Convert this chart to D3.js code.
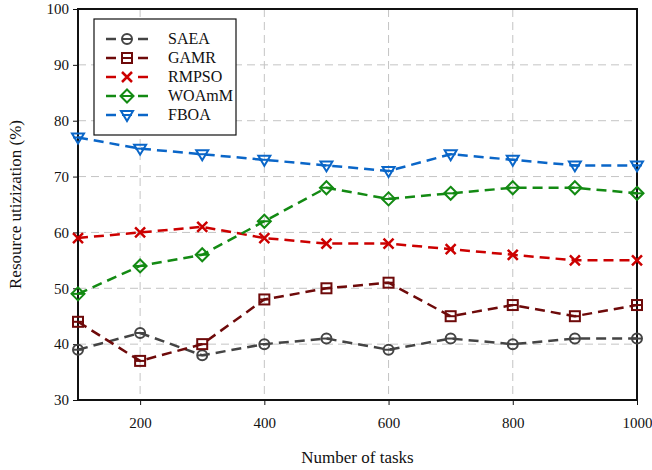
<!DOCTYPE html>
<html>
<head>
<meta charset="utf-8">
<script src="https://cdn.jsdelivr.net/npm/d3@7"></script>
<style>
  body { margin: 0; background: #fff; }
  text { font-family: "Liberation Serif", "Times New Roman", serif; }
</style>
</head>
<body>
<svg id="chart" width="652" height="470"></svg>
<script>
// data
const tasks = [100, 200, 300, 400, 500, 600, 700, 800, 900, 1000];
const saea = [39, 42, 38, 40, 41, 39, 41, 40, 41, 41];
const gamr = [44, 37, 40, 48, 50, 51, 45, 47, 45, 47];
const rmpso = [59, 60, 61, 59, 58, 58, 57, 56, 55, 55];
const woamm = [49, 54, 56, 62, 68, 66, 67, 68, 68, 67];
const fboa = [77, 75, 74, 73, 72, 71, 74, 73, 72, 72];
const xTicks = [200, 400, 600, 800, 1000];
const yTicks = [30, 40, 50, 60, 70, 80, 90, 100];

const series = [
  { name: 'SAEA', values: saea, color: '#444444', marker: 'circle' },
  { name: 'GAMR', values: gamr, color: '#6e0a0a', marker: 'square' },
  { name: 'RMPSO', values: rmpso, color: '#cc0000', marker: 'cross' },
  { name: 'WOAmM', values: woamm, color: '#138a13', marker: 'diamond' },
  { name: 'FBOA', values: fboa, color: '#0a66c8', marker: 'triangle' },
];

const svg = d3.select('#chart');
const margin = { left: 78, right: 15, top: 9, bottom: 70 };
const width = 652 - margin.left - margin.right;
const height = 470 - margin.top - margin.bottom;

const x = d3.scaleLinear().domain([100, 1000]).range([0, width]);
const y = d3.scaleLinear().domain([30, 100]).range([height, 0]);

const g = svg.append('g').attr('transform', `translate(${margin.left},${margin.top})`);

// grid
g.append('g')
  .selectAll('line')
  .data(yTicks.slice(1, -1))
  .join('line')
  .attr('x1', 0).attr('x2', width)
  .attr('y1', (d) => y(d)).attr('y2', (d) => y(d))
  .attr('stroke', '#c4c4c4').attr('stroke-width', 1).attr('stroke-dasharray', '8,5');
g.append('g')
  .selectAll('line')
  .data(xTicks.slice(0, -1))
  .join('line')
  .attr('x1', (d) => x(d)).attr('x2', (d) => x(d))
  .attr('y1', 0).attr('y2', height)
  .attr('stroke', '#c4c4c4').attr('stroke-width', 1).attr('stroke-dasharray', '8,5');

// axes
const xAxis = g.append('g')
  .attr('transform', `translate(0,${height})`)
  .call(d3.axisBottom(x).tickValues(xTicks).tickFormat(d3.format('d')).tickSize(5).tickPadding(12));
const yAxis = g.append('g')
  .call(d3.axisLeft(y).tickValues(yTicks).tickFormat(d3.format('d')).tickSize(5).tickPadding(4));
[xAxis, yAxis].forEach((a) => {
  a.attr('font-family', '"Liberation Serif", serif');
  a.select('.domain').remove();
  a.selectAll('text').attr('font-size', 15).attr('fill', '#111');
  a.selectAll('line').attr('stroke', '#111');
});

// frame
g.append('rect')
  .attr('width', width).attr('height', height)
  .attr('fill', 'none').attr('stroke', '#111').attr('stroke-width', 2);

// markers
function drawMarker(sel, type, color) {
  const s = 5;
  if (type === 'circle') {
    sel.append('circle').attr('r', s).attr('fill', 'none').attr('stroke', color).attr('stroke-width', 2);
    sel.append('line').attr('x1', -s).attr('x2', s).attr('stroke', color).attr('stroke-width', 2);
  } else if (type === 'square') {
    sel.append('rect').attr('x', -s).attr('y', -s).attr('width', 2 * s).attr('height', 2 * s)
      .attr('fill', 'none').attr('stroke', color).attr('stroke-width', 2);
    sel.append('line').attr('x1', -s).attr('x2', s).attr('stroke', color).attr('stroke-width', 2);
  } else if (type === 'cross') {
    sel.append('path').attr('d', `M${-s},${-s}L${s},${s}M${-s},${s}L${s},${-s}`)
      .attr('stroke', color).attr('stroke-width', 2.5);
  } else if (type === 'diamond') {
    const d = s + 1.5;
    sel.append('path').attr('d', `M0,${-d}L${d},0L0,${d}L${-d},0Z`)
      .attr('fill', 'none').attr('stroke', color).attr('stroke-width', 2);
    sel.append('line').attr('x1', -d).attr('x2', d).attr('stroke', color).attr('stroke-width', 2);
  } else if (type === 'triangle') {
    sel.append('path').attr('d', `M${-s - 1},${-s + 1}L${s + 1},${-s + 1}L0,${s + 1}Z`)
      .attr('fill', 'none').attr('stroke', color).attr('stroke-width', 2);
    sel.append('line').attr('x1', -s).attr('x2', s).attr('stroke', color).attr('stroke-width', 2);
  }
}

const line = d3.line().x((d, i) => x(tasks[i])).y((d) => y(d));

series.forEach((s) => {
  const sg = g.append('g');
  sg.append('path')
    .attr('d', line(s.values))
    .attr('fill', 'none')
    .attr('stroke', s.color)
    .attr('stroke-width', 2.5)
    .attr('stroke-dasharray', '10,6');
  sg.selectAll('g.pt')
    .data(s.values)
    .join('g')
    .attr('class', 'pt')
    .attr('transform', (d, i) => `translate(${x(tasks[i])},${y(d)})`)
    .each(function () { drawMarker(d3.select(this), s.marker, s.color); });
});

// legend
const legend = svg.append('g').attr('transform', 'translate(94,19)');
legend.append('rect')
  .attr('width', 142).attr('height', 116)
  .attr('fill', '#fff').attr('stroke', '#111').attr('stroke-width', 1.2);
series.forEach((s, i) => {
  const row = legend.append('g').attr('transform', `translate(0,${20 + i * 19})`);
  row.append('line').attr('x1', 12).attr('x2', 22).attr('stroke', s.color).attr('stroke-width', 2.5);
  row.append('line').attr('x1', 44).attr('x2', 54).attr('stroke', s.color).attr('stroke-width', 2.5);
  const m = row.append('g').attr('transform', 'translate(33,0)');
  drawMarker(m, s.marker, s.color);
  row.append('text')
    .attr('x', 74).attr('y', 5)
    .attr('font-size', 16).attr('fill', '#111')
    .text(s.name);
});

// axis titles
svg.append('text')
  .attr('x', margin.left + width / 2).attr('y', 463)
  .attr('text-anchor', 'middle').attr('font-size', 17).attr('fill', '#111')
  .text('Number of tasks');
svg.append('text')
  .attr('transform', `translate(21,${margin.top + height / 2}) rotate(-90)`)
  .attr('text-anchor', 'middle').attr('font-size', 17).attr('fill', '#111')
  .text('Resource utizization (%)');
</script>
</body>
</html>
